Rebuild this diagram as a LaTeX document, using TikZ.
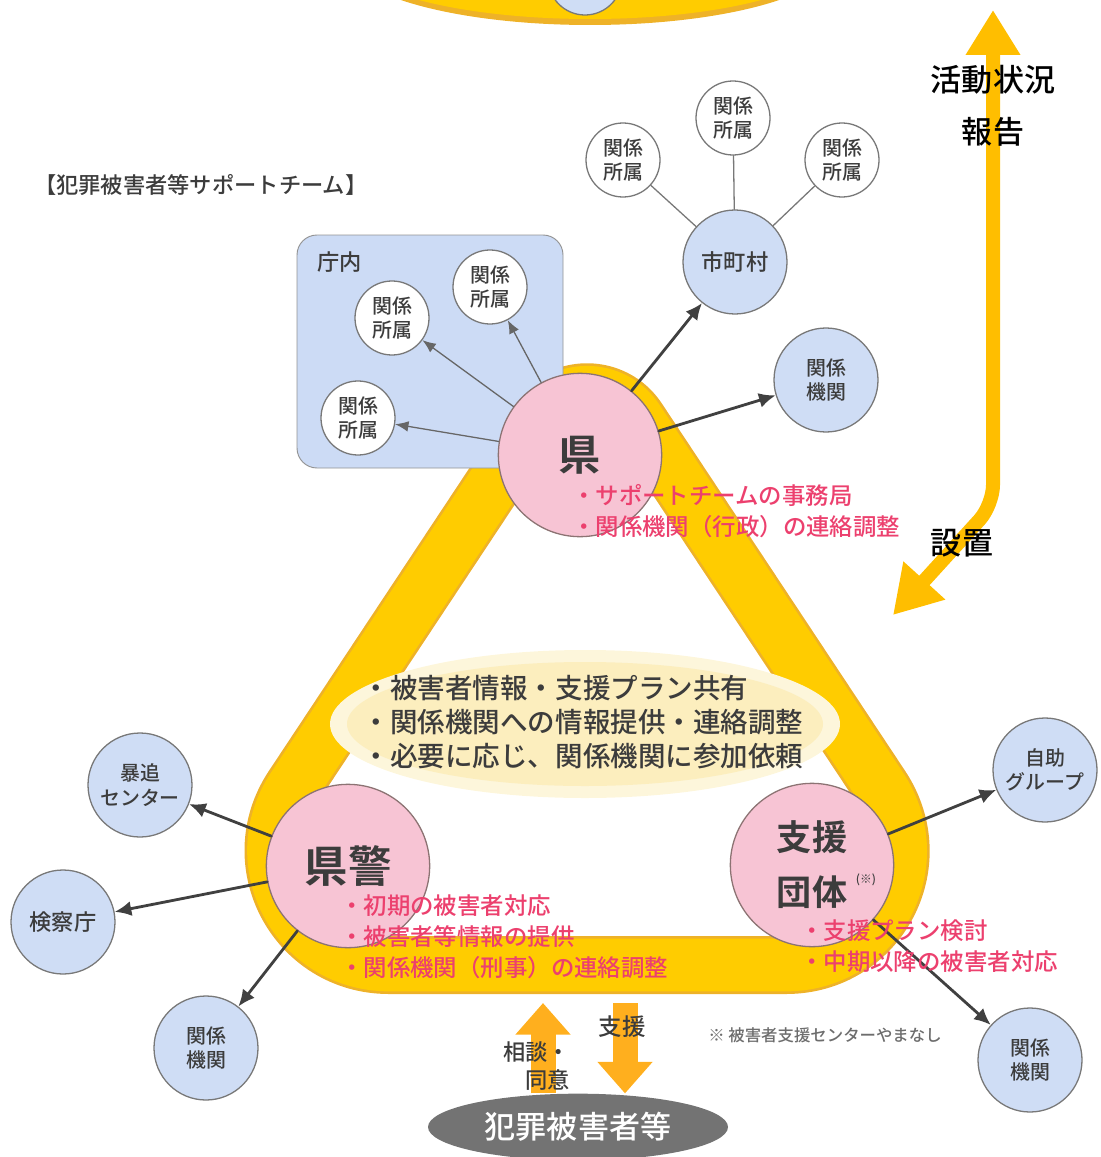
\documentclass[tikz,border=0pt]{standalone}
\usepackage{fontspec}
\setmainfont{Noto Sans CJK JP}[UprightFont={* Medium},BoldFont={* Bold}]
\usepackage{tikz}
\usetikzlibrary{shapes,arrows}
\usetikzlibrary{arrows.meta}

\definecolor{lightblue}{RGB}{207,221,245}
\definecolor{boxblue}{RGB}{204,219,245}
\definecolor{pinkfill}{RGB}{247,196,212}
\definecolor{pinkedge}{RGB}{140,115,115}
\definecolor{circgray}{RGB}{120,120,120}
\definecolor{darkline}{RGB}{64,64,64}
\definecolor{bandyellow}{RGB}{255,204,0}
\definecolor{bandedge}{RGB}{238,178,40}
\definecolor{arrowyellow}{RGB}{255,190,0}
\definecolor{orangearrow}{RGB}{255,175,30}
\definecolor{redtxt}{RGB}{236,64,110}
\definecolor{glow}{RGB}{252,238,190}
\definecolor{victimgray}{RGB}{115,115,115}
\definecolor{darktext}{RGB}{60,60,60}

\begin{document}
\begin{tikzpicture}
    [line cap=round,line join=round,x=0.03cm,y=-0.03cm,
     bluecirc/.style={circle,draw=circgray,line width=1.1pt,fill=lightblue,minimum size=3.12cm,inner sep=0pt,align=center,text=darktext,font=\fontsize{17}{21}\selectfont},
     whitecirc/.style={circle,draw=circgray,line width=1.1pt,fill=white,minimum size=2.22cm,inner sep=0pt,align=center,text=darktext,font=\fontsize{17}{21}\selectfont},
     pinkcirc/.style={circle,draw=pinkedge,line width=1.1pt,fill=pinkfill,minimum size=4.9cm,inner sep=0pt,align=center,text=darktext},
     conn/.style={-{Latex[length=0.5cm,width=0.45cm]},color=darkline,line width=2.4pt},
     thinconn/.style={-{Latex[length=0.4cm,width=0.32cm]},color=darkline!80,line width=1.1pt},
     redtext/.style={anchor=north west,inner sep=0pt,align=left,text=redtxt,font=\fontsize{20}{26.5}\selectfont},
     bigarrow/.style={line cap=butt,line join=miter}]
\useasboundingbox (0,0) rectangle (1100,1157);
%the chart above, cut off at the top edge
\begin{scope}
  \clip (0,0) rectangle (1100,1157);
  \fill[bandedge] (590,-45) ellipse [x radius=247, y radius=70];
  \fill[bandyellow] (590,-47) ellipse [x radius=244, y radius=66];
  \draw[circgray,fill=lightblue,line width=1.1pt] (585,-22) circle [radius=37];
\end{scope}

%the team band
\draw[bandedge,line width=1.74cm] (536,420) .. controls (560,383) and (614,383) .. (638,420) -- (881,787)
   .. controls (932,864) and (878,965) .. (786,965) -- (389,965) .. controls (297,965) and (242,864) .. (293,787) -- cycle;
\draw[bandyellow,line width=1.58cm] (536,420) .. controls (560,383) and (614,383) .. (638,420) -- (881,787)
   .. controls (932,864) and (878,965) .. (786,965) -- (389,965) .. controls (297,965) and (242,864) .. (293,787) -- cycle;

\fill[glow!55!white] (585,724) ellipse [x radius=255, y radius=74];
\fill[glow] (585,724) ellipse [x radius=238, y radius=62];
\node[align=left,text=darktext,font=\fontsize{23.5}{29.3}\selectfont] (shared) at (583,722)
   {・被害者情報・支援プラン共有\\・関係機関への情報提供・連絡調整\\・必要に応じ、関係機関に参加依頼};

\node[anchor=west,text=darktext,font=\fontsize{19}{22}\selectfont] (title) at (30,185) {【犯罪被害者等サポートチーム】};

%inside the prefecture office
\draw[circgray!80,line width=0.8pt,fill=boxblue,rounded corners=0.6cm] (297,235) rectangle (563,468);
\node[anchor=west,text=darktext,font=\fontsize{19}{22}\selectfont] (chonai) at (313,262) {庁内};
\node[whitecirc] (shozokuA) at (392,318) {関係\\所属};
\node[whitecirc] (shozokuB) at (490,287) {関係\\所属};
\node[whitecirc] (shozokuC) at (358,418) {関係\\所属};

%municipality cluster
\node[bluecirc,font=\fontsize{19}{22}\selectfont] (shichoson) at (735,262) {市町村};
\node[whitecirc] (shozokuD) at (623,160) {関係\\所属};
\node[whitecirc] (shozokuE) at (733,118) {関係\\所属};
\node[whitecirc] (shozokuF) at (842,160) {関係\\所属};
\draw[circgray,line width=1.1pt] (shichoson) -- (shozokuD);
\draw[circgray,line width=1.1pt] (shichoson) -- (shozokuE);
\draw[circgray,line width=1.1pt] (shichoson) -- (shozokuF);
\node[bluecirc] (kikanA) at (826,380) {関係\\機関};

%the three members
\node[pinkcirc,font=\bfseries\fontsize{36}{40}\selectfont] (ken) at (580,455) {県};
\node[pinkcirc,font=\bfseries\fontsize{37}{40}\selectfont] (kenkei) at (348,866) {県警};
\node[pinkcirc,font=\bfseries\fontsize{30}{47}\selectfont] (dantai) at (812,865) {支援\\団体};
\node[text=darktext,font=\fontsize{10}{12}\selectfont] (kome) at (866,880) {(※)};

\draw[conn] (ken) -- (shichoson);
\draw[conn] (ken) -- (kikanA);
\draw[thinconn] (ken) -- (shozokuA);
\draw[thinconn] (ken) -- (shozokuB);
\draw[thinconn] (ken) -- (shozokuC);

\node[bluecirc] (bouei) at (140,785) {暴追\\センター};
\node[bluecirc,font=\fontsize{19}{22}\selectfont] (kensatsu) at (63,922) {検察庁};
\node[bluecirc] (kikanB) at (206,1048) {関係\\機関};
\node[bluecirc] (jijo) at (1045,770) {自助\\グループ};
\node[bluecirc] (kikanC) at (1030,1060) {関係\\機関};
\draw[conn] (kenkei) -- (bouei);
\draw[conn] (kenkei) -- (kensatsu);
\draw[conn] (kenkei) -- (kikanB);
\draw[conn] (dantai) -- (jijo);
\draw[conn] (dantai) -- (kikanC);

\node[redtext] (kenrole) at (572,484) {・サポートチームの事務局\\・関係機関（行政）の連絡調整};
\node[redtext] (kenkeirole) at (340,894) {・初期の被害者対応\\・被害者等情報の提供\\・関係機関（刑事）の連絡調整};
\node[redtext] (dantairole) at (800,919) {・支援プラン検討\\・中期以降の被害者対応};

%report and setup arrow on the right
\coordinate (report) at (993,10);
\coordinate (bend) at (993,505);
\coordinate (setup) at (893,615);
\draw[bigarrow,arrowyellow,line width=0.42cm,rounded corners=0.6cm,{Triangle[width=1.55cm,length=1.35cm]}-{Triangle[width=1.6cm,length=1.4cm]}] (report) -- (bend) -- (setup);
\node[font=\fontsize{26.5}{30}\selectfont] (katsudo) at (993,80) {活動状況};
\node[font=\fontsize{26.5}{30}\selectfont] (hokoku) at (993,132) {報告};
\node[font=\fontsize{26.5}{30}\selectfont] (secchi) at (962,543) {設置};

%victims at the bottom
\node[ellipse,fill=victimgray,minimum width=9cm,minimum height=2cm,text=white,font=\fontsize{26.5}{30}\selectfont] (victim) at (578,1127) {犯罪被害者等};
\coordinate (consultTop) at (543,1003);
\coordinate (supportTop) at (625,1003);
\draw[bigarrow,orangearrow,line width=0.75cm,-{Triangle[width=1.6cm,length=0.95cm]}] (victim.north -| consultTop) -- (consultTop);
\draw[bigarrow,orangearrow,line width=0.75cm,-{Triangle[width=1.6cm,length=0.95cm]}] (supportTop) -- (victim.north -| supportTop);
\node[anchor=east,align=right,text=darktext,font=\fontsize{19}{24}\selectfont] (consult) at (574,1066) {相談・\\同意};
\node[text=darktext,font=\fontsize{20}{24}\selectfont] (support) at (622,1027) {支援};
\node[text=darktext!75,font=\fontsize{14}{17}\selectfont] (note) at (825,1035) {※ 被害者支援センターやまなし};
\end{tikzpicture}
\end{document}
